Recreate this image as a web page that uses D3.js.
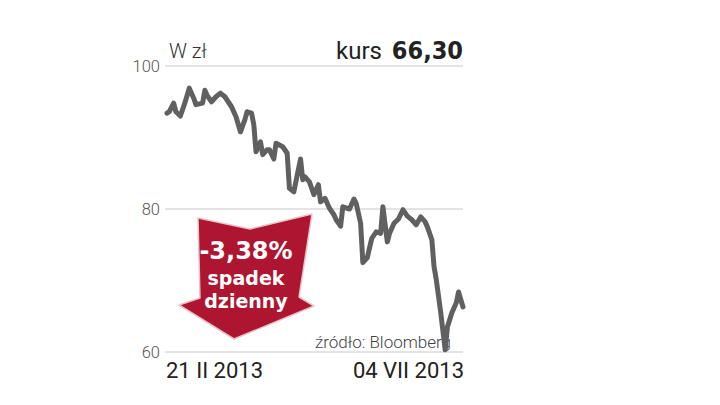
<!DOCTYPE html>
<html>
<head>
<meta charset="utf-8">
<script src="https://cdn.jsdelivr.net/npm/d3@7"></script>
<style>
  body { margin: 0; background: #fff; }
  svg { display: block; }
</style>
</head>
<body>
<div id="chart"></div>
<script>
// kurs w zł, 21 II 2013 - 04 VII 2013
const dates = [
  "2013-02-21", "2013-02-22", "2013-02-24", "2013-02-25", "2013-02-27", "2013-03-01",
  "2013-03-03", "2013-03-05", "2013-03-06", "2013-03-09", "2013-03-10", "2013-03-11",
  "2013-03-13", "2013-03-15", "2013-03-17", "2013-03-19", "2013-03-22", "2013-03-24",
  "2013-03-26", "2013-03-28", "2013-03-29", "2013-03-31", "2013-04-01", "2013-04-02",
  "2013-04-04", "2013-04-05", "2013-04-07", "2013-04-08", "2013-04-10", "2013-04-11",
  "2013-04-14", "2013-04-16", "2013-04-17", "2013-04-19", "2013-04-22", "2013-04-23",
  "2013-04-24", "2013-04-26", "2013-04-28", "2013-04-30", "2013-05-01", "2013-05-03",
  "2013-05-05", "2013-05-07", "2013-05-08", "2013-05-10", "2013-05-11", "2013-05-14",
  "2013-05-16", "2013-05-17", "2013-05-19", "2013-05-20", "2013-05-22", "2013-05-24",
  "2013-05-26", "2013-05-28", "2013-05-29", "2013-05-31", "2013-06-01", "2013-06-03",
  "2013-06-05", "2013-06-07", "2013-06-09", "2013-06-11", "2013-06-13", "2013-06-15",
  "2013-06-17", "2013-06-18", "2013-06-20", "2013-06-21", "2013-06-22", "2013-06-24",
  "2013-06-26", "2013-06-27", "2013-06-29", "2013-07-01", "2013-07-02", "2013-07-04"
];
const prices = [
  93.4, 93.6, 94.8, 93.6, 93.0, 94.8,
  96.9, 95.5, 94.6, 94.8, 96.6, 95.9,
  95.0, 95.7, 96.2, 95.7, 94.3, 92.9,
  90.8, 92.5, 93.6, 93.4, 91.8, 88.0,
  89.4, 87.6, 88.3, 88.3, 87.0, 89.2,
  88.7, 87.8, 82.9, 82.4, 87.0, 84.1,
  84.5, 83.8, 82.0, 83.4, 81.0, 81.5,
  80.1, 79.2, 78.5, 77.6, 80.3, 80.0,
  81.4, 80.8, 78.0, 72.5, 73.2, 75.9,
  76.8, 76.6, 80.3, 75.4, 76.6, 78.0,
  78.6, 79.9, 79.0, 78.5, 77.8, 78.9,
  78.2, 77.5, 75.7, 71.9, 70.1, 65.5,
  60.3, 63.5, 65.5, 66.9, 68.4, 66.3
];
const yTicks = [60, 80, 100];
const dateLabels = ["21 II 2013", "04 VII 2013"];
const unitLabel = "W zł";
const lastLabel = "kurs";
const lastValue = "66,30";
const badgeLines = ["-3,38%", "spadek", "dzienny"];
const sourceLabel = "źródło: Bloomberg";

const width = 720, height = 405;
const svg = d3.select("#chart").append("svg")
  .attr("width", width)
  .attr("height", height);

const parse = d3.timeParse("%Y-%m-%d");
const data = dates.map((d, i) => ({ date: parse(d), value: prices[i] }));

const x = d3.scaleTime()
  .domain(d3.extent(data, d => d.date))
  .range([167, 463]);
const y = d3.scaleLinear()
  .domain([60, 100])
  .range([352, 66]);

// grid lines
svg.append("g")
  .selectAll("line")
  .data(yTicks)
  .join("line")
  .attr("x1", 165)
  .attr("x2", 463)
  .attr("y1", d => y(d))
  .attr("y2", d => y(d))
  .attr("stroke", "#c9c9c9")
  .attr("stroke-width", 1);

// y tick labels
svg.append("g")
  .selectAll("text")
  .data(yTicks)
  .join("text")
  .attr("x", 160)
  .attr("y", d => y(d) + 6)
  .attr("text-anchor", "end")
  .attr("font-family", "Roboto, 'Open Sans', sans-serif")
  .attr("font-weight", 300)
  .attr("font-size", 16.5)
  .attr("fill", "#555")
  .text(d => d);

// header
svg.append("text")
  .attr("x", 169)
  .attr("y", 58)
  .attr("font-family", "Roboto, 'Open Sans', sans-serif")
  .attr("font-weight", 300)
  .attr("font-size", 20)
  .attr("fill", "#333")
  .text(unitLabel);

svg.append("text")
  .attr("x", 382)
  .attr("y", 59)
  .attr("text-anchor", "end")
  .attr("font-family", "Roboto, 'Open Sans', sans-serif")
  .attr("font-size", 24)
  .attr("fill", "#222")
  .text(lastLabel);

svg.append("text")
  .attr("x", 463)
  .attr("y", 59)
  .attr("text-anchor", "end")
  .attr("font-family", "'DejaVu Sans Condensed', 'DejaVu Sans', sans-serif")
  .attr("font-stretch", "condensed")
  .attr("font-weight", "bold")
  .attr("font-size", 25)
  .attr("fill", "#222")
  .text(lastValue);

// red badge arrow
const badge = svg.append("g");
badge.append("path")
  .attr("d", "M198,218 L250,229 L312,214 L299,297 L314,306 L234,339 L179,305 L200,298 Z")
  .attr("fill", "#ad1530")
  .attr("stroke", "#e7c3c8")
  .attr("stroke-width", 1.5)
  .attr("stroke-linejoin", "round");

const badgeY = [259, 285, 308];
const badgeSize = [24, 19, 19];
badge.selectAll("text")
  .data(badgeLines)
  .join("text")
  .attr("x", 246)
  .attr("y", (d, i) => badgeY[i])
  .attr("text-anchor", "middle")
  .attr("font-family", "'DejaVu Sans', sans-serif")
  .attr("font-weight", "bold")
  .attr("font-size", (d, i) => badgeSize[i])
  .attr("fill", "#fff")
  .text(d => d);

// source
svg.append("text")
  .attr("x", 451)
  .attr("y", 348)
  .attr("text-anchor", "end")
  .attr("font-family", "Roboto, 'Open Sans', sans-serif")
  .attr("font-weight", 300)
  .attr("font-size", 17)
  .attr("fill", "#444")
  .text(sourceLabel);

// price line
const line = d3.line()
  .x(d => x(d.date))
  .y(d => y(d.value));

svg.append("path")
  .datum(data)
  .attr("d", line)
  .attr("fill", "none")
  .attr("stroke", "#606060")
  .attr("stroke-width", 5)
  .attr("stroke-linejoin", "round")
  .attr("stroke-linecap", "round");

// date labels
svg.append("text")
  .attr("x", 166)
  .attr("y", 378)
  .attr("font-family", "Roboto, 'Open Sans', sans-serif")
  .attr("font-size", 22)
  .attr("fill", "#222")
  .text(dateLabels[0]);

svg.append("text")
  .attr("x", 464)
  .attr("y", 378)
  .attr("text-anchor", "end")
  .attr("font-family", "Roboto, 'Open Sans', sans-serif")
  .attr("font-size", 22)
  .attr("fill", "#222")
  .text(dateLabels[1]);
</script>
</body>
</html>
